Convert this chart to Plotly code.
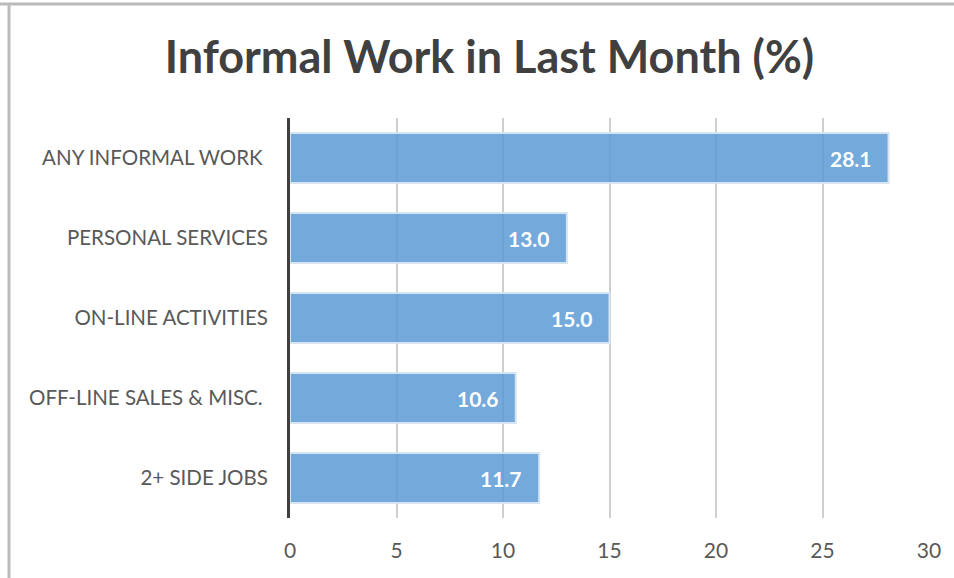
import plotly.graph_objects as go

categories = ["ANY INFORMAL WORK\u00a0", "PERSONAL SERVICES", "ON-LINE ACTIVITIES",
              "OFF-LINE SALES & MISC.\u00a0", "2+ SIDE JOBS"]
values = [28.1, 13.0, 15.0, 10.6, 11.7]
x_ticks = [0, 5, 10, 15, 20, 25, 30]

W, H = 954, 578
L, R, T, B = 290, 25, 118, 60

fig = go.Figure()
fig.add_trace(go.Bar(
    x=values, y=categories, orientation="h",
    marker=dict(color="rgba(91,155,213,0.85)",
                line=dict(color="rgba(215,228,242,1)", width=2)),
    hoverinfo="x+y",
))

for c, v in zip(categories, values):
    fig.add_annotation(x=v, y=c, text=f"{v:.1f}", showarrow=False,
                       xanchor="right", xshift=-15,
                       font=dict(family="Lato", size=21, color="white", weight="bold"))

fig.update_layout(
    width=W, height=H,
    margin=dict(l=L, r=R, t=T, b=B),
    paper_bgcolor="white", plot_bgcolor="white",
    bargap=0.375,
    showlegend=False,
    title=dict(text="Informal Work in Last Month (%)", x=0.513, xanchor="center",
               y=1 - 57 / H, yanchor="middle",
               font=dict(family="Lato", size=45, color="#404040", weight="bold")),
    font=dict(family="Lato", size=20, color="#595959"),
    xaxis=dict(range=[0, 30], tickvals=x_ticks, showgrid=True,
               gridcolor="#CFCFCF", gridwidth=2, zeroline=False,
               showline=False, ticks="", ticklabelstandoff=18,
               tickfont=dict(size=21, color="#595959")),
    yaxis=dict(autorange="reversed", showgrid=False, zeroline=False,
               showline=True, linecolor="#404040", linewidth=3,
               ticks="", ticklabelstandoff=15,
               tickfont=dict(size=20.5, color="#595959")),
    shapes=[
        dict(type="line", xref="paper", yref="paper",
             x0=-(L - 0) / (W - L - R), x1=(W - L) / (W - L - R),
             y0=1 + (T - 4) / (H - T - B), y1=1 + (T - 4) / (H - T - B),
             line=dict(color="#BBBBBB", width=3)),
        dict(type="line", xref="paper", yref="paper",
             x0=-(L - 9) / (W - L - R), x1=-(L - 9) / (W - L - R),
             y0=1 + (T - 3) / (H - T - B), y1=-B / (H - T - B),
             line=dict(color="#BBBBBB", width=3)),
    ],
)

fig.write_html("out.html", config={"displayModeBar": False},
               post_script="document.body.style.margin='0';document.body.style.overflow='hidden';")
